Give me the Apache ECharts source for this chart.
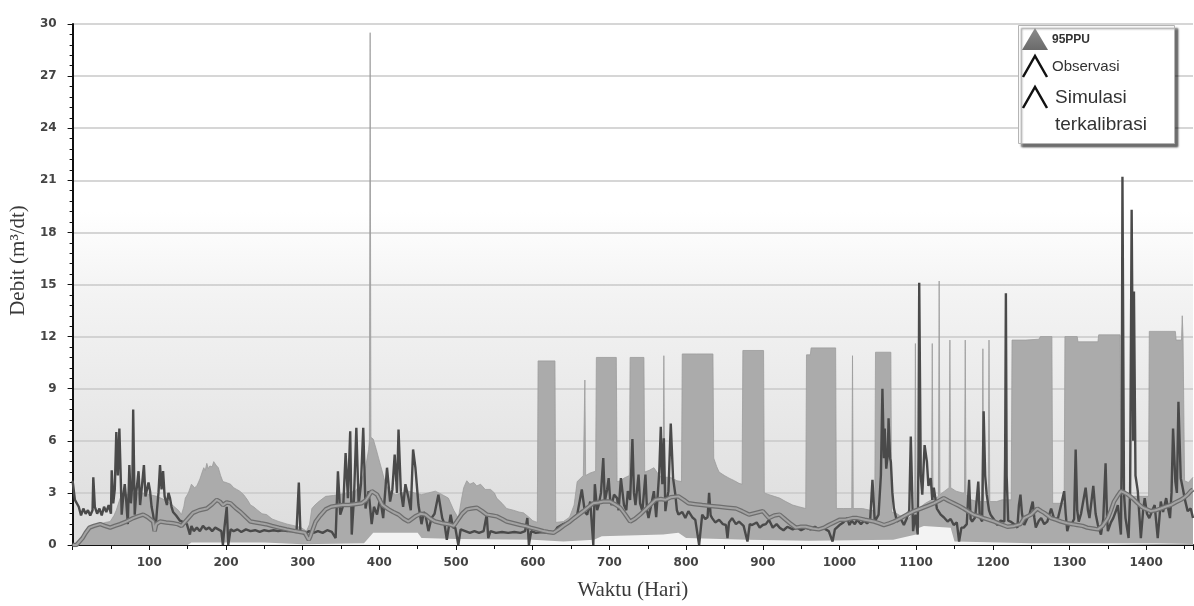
<!DOCTYPE html>
<html>
<head>
<meta charset="utf-8">
<script src="https://cdn.jsdelivr.net/npm/echarts@6/dist/echarts.min.js"></script>
<style>
html,body{margin:0;padding:0;background:#ffffff;}
#chart{width:1194px;height:606px;}
</style>
</head>
<body>
<div id="chart"></div>
<script>
// ---- data: [day, discharge m3/dt] ----
const yTicks = [0,3,6,9,12,15,18,21,24,27,30];
const xTickLabels = [100,200,300,400,500,600,700,800,900,1000,1100,1200,1300,1400];

const observed = [
[0,3.7],[3,2.6],[8,2.2],[11,1.7],[14,2.1],[17,1.8],[20,2.0],[23,1.7],[26,2.0],[27,3.9],[29,2.2],[32,1.8],[35,2.1],[38,1.7],[41,2.2],[44,1.9],[47,2.3],[50,1.8],[51,4.3],[53,2.4],[55,3.2],[57,6.5],[59,4.0],[61,6.7],[63,3.5],[64,1.75],[66,2.8],[68,3.5],[70,2.5],[72,1.2],[74,4.6],[76,2.4],[78,3.6],[79,7.8],[81,1.75],[83,3.0],[86,4.25],[88,2.3],[90,3.2],[93,4.6],[95,2.8],[97,2.7],[99,3.6],[101,3.1],[103,2.2],[105,1.75],[108,0.8],[110,2.0],[112,3.0],[114,4.6],[116,3.2],[118,4.25],[120,2.8],[123,2.3],[125,3.0],[127,2.7],[129,2.2],[131,1.9],[135,1.7],[140,1.4],[145,1.3],[149,1.2],[151,0.9],[153,0.6],[155,1.1],[158,0.8],[162,1.0],[166,0.8],[170,1.1],[174,0.9],[178,1.0],[182,0.8],[186,1.0],[190,0.9],[194,0.8],[196,0.0],[198,1.0],[201,2.2],[203,0.0],[206,0.9],[210,0.8],[215,0.9],[220,0.75],[226,0.9],[232,0.8],[238,0.85],[244,0.75],[250,0.85],[256,0.8],[262,0.85],[268,0.8],[274,0.85],[280,0.8],[286,0.8],[292,0.75],[295,3.6],[297,0.8],[303,0.6],[308,0.8],[314,0.7],[320,0.8],[326,0.7],[332,0.85],[338,0.75],[343,0.4],[346,4.25],[349,1.75],[353,2.3],[356,5.3],[359,2.7],[362,6.55],[364,0.6],[367,2.8],[370,6.75],[373,2.3],[376,3.5],[379,6.75],[382,2.1],[386,3.1],[390,1.2],[393,2.2],[397,1.75],[401,2.7],[405,1.55],[410,4.45],[414,2.5],[417,3.2],[420,5.2],[423,3.0],[425,6.65],[428,3.1],[431,2.2],[434,3.5],[438,2.7],[441,2.0],[444,5.5],[447,4.45],[451,2.3],[455,1.2],[458,1.9],[460,1.75],[464,0.8],[468,1.55],[472,1.8],[477,2.9],[482,1.55],[485,1.2],[488,0.3],[493,1.75],[496,1.0],[499,1.0],[503,0.0],[506,0.9],[512,0.8],[518,0.7],[524,0.8],[530,0.7],[536,0.8],[540,1.75],[542,0.4],[545,0.8],[552,0.7],[560,0.75],[568,0.7],[576,0.75],[584,0.7],[590,0.8],[593,1.55],[595,0.0],[598,0.8],[604,0.7],[612,0.75],[620,0.7],[628,0.7],[632,1.0],[640,1.2],[649,1.35],[654,1.6],[658,1.75],[664,3.2],[668,1.9],[671,1.75],[675,2.5],[679,0.0],[681,3.5],[684,2.0],[686,2.3],[689,3.0],[692,5.0],[694,2.5],[697,3.2],[699,3.85],[701,2.6],[703,2.3],[706,2.9],[710,2.7],[712,2.0],[715,3.85],[719,2.3],[722,2.0],[724,3.1],[727,2.6],[730,6.1],[732,3.0],[734,2.3],[738,4.05],[740,2.4],[743,1.95],[747,4.05],[749,2.0],[751,1.55],[755,2.4],[758,3.1],[761,1.6],[765,4.2],[767,6.8],[769,3.5],[771,6.15],[773,1.95],[775,2.6],[777,3.1],[780,7.0],[783,3.85],[786,2.9],[788,2.0],[790,1.75],[795,1.9],[799,1.55],[803,1.95],[808,1.6],[812,1.45],[817,0.0],[821,1.75],[825,1.5],[828,1.6],[830,3.0],[832,1.7],[834,1.55],[838,1.3],[843,1.45],[848,1.2],[852,1.15],[854,0.4],[856,1.3],[860,1.55],[865,1.2],[869,1.35],[875,1.1],[880,0.2],[883,1.2],[886,1.15],[892,1.3],[896,1.0],[900,1.15],[904,1.2],[908,1.45],[913,1.0],[918,1.2],[922,1.0],[927,0.85],[932,1.05],[939,0.9],[945,1.0],[950,0.85],[956,1.0],[962,0.9],[968,1.05],[973,0.9],[980,0.95],[986,0.8],[991,0.2],[994,0.9],[1000,1.15],[1005,1.3],[1010,1.55],[1013,1.15],[1016,1.4],[1020,1.2],[1023,1.45],[1028,1.2],[1032,1.4],[1036,1.25],[1040,1.4],[1043,3.75],[1046,1.35],[1051,1.75],[1054,4.0],[1056,9.0],[1058,5.0],[1059,6.7],[1061,4.4],[1063,5.2],[1064,7.3],[1066,5.0],[1067,4.8],[1069,3.0],[1071,2.1],[1075,1.35],[1080,1.5],[1084,1.15],[1088,1.55],[1091,2.0],[1093,6.25],[1096,0.8],[1099,1.75],[1102,0.6],[1103,5.0],[1104,15.1],[1106,4.0],[1108,2.9],[1111,5.75],[1114,4.8],[1116,3.4],[1119,3.85],[1121,2.6],[1123,3.3],[1127,2.1],[1132,1.75],[1136,1.6],[1141,1.35],[1145,1.5],[1149,1.15],[1153,1.3],[1156,0.2],[1159,1.0],[1162,1.0],[1166,1.2],[1169,3.75],[1171,1.5],[1173,1.35],[1177,1.6],[1181,3.65],[1183,1.6],[1186,1.35],[1188,7.7],[1190,4.0],[1192,2.9],[1195,2.0],[1197,1.75],[1201,1.5],[1206,1.15],[1210,1.4],[1215,1.35],[1216,5.0],[1217,14.5],[1218,4.0],[1220,1.4],[1223,1.35],[1228,1.2],[1232,1.0],[1234,2.3],[1236,2.9],[1238,1.8],[1241,1.15],[1245,1.55],[1248,1.8],[1252,2.5],[1254,1.6],[1256,1.0],[1260,1.4],[1263,1.55],[1267,1.2],[1271,1.35],[1274,1.8],[1276,2.1],[1280,1.5],[1285,1.55],[1289,2.3],[1293,3.1],[1295,1.8],[1297,0.8],[1300,1.3],[1302,1.15],[1306,1.5],[1308,5.5],[1310,2.0],[1312,1.35],[1315,1.8],[1317,2.3],[1321,3.3],[1324,2.0],[1326,1.55],[1331,3.4],[1334,1.8],[1337,1.15],[1341,0.6],[1344,1.5],[1347,4.7],[1349,1.5],[1350,0.8],[1354,1.3],[1357,1.55],[1360,1.9],[1363,2.3],[1367,0.6],[1368,5.0],[1369,21.2],[1371,3.0],[1373,1.55],[1377,0.4],[1379,3.0],[1381,19.3],[1383,6.0],[1384,14.6],[1386,4.0],[1389,3.1],[1393,0.4],[1396,2.0],[1398,2.7],[1401,1.8],[1404,1.55],[1408,2.0],[1411,2.3],[1415,0.4],[1419,2.5],[1422,1.9],[1426,2.7],[1429,2.0],[1431,1.55],[1433,3.0],[1435,6.7],[1438,3.65],[1440,3.0],[1442,8.25],[1445,3.85],[1448,3.2],[1450,2.7],[1454,1.95],[1458,2.1],[1461,1.55]
];

const simulated = [
[0,0],[5,0],[9,0.2],[13,0.4],[17,0.7],[22,1.0],[28,1.1],[36,1.2],[42,1.1],[49,1.0],[55,1.1],[62,1.2],[70,1.35],[79,1.55],[85,1.65],[92,1.75],[98,1.6],[105,1.35],[107,0.8],[109,1.2],[114,1.35],[122,1.3],[131,1.25],[137,1.2],[142,1.1],[148,1.4],[153,1.65],[157,1.85],[165,2.0],[175,2.1],[182,2.35],[188,2.6],[192,2.5],[196,2.3],[201,2.45],[206,2.4],[212,2.15],[219,1.9],[226,1.6],[232,1.35],[239,1.3],[245,1.25],[252,1.2],[260,1.1],[269,1.0],[279,0.9],[290,0.8],[297,0.75],[303,0.7],[306,0.45],[308,0.3],[310,0.5],[317,1.35],[323,1.7],[330,2.05],[337,2.2],[343,2.25],[352,2.3],[360,2.3],[368,2.35],[377,2.4],[383,2.6],[390,3.1],[397,2.9],[404,2.3],[412,2.05],[418,1.9],[425,1.75],[432,1.5],[438,1.35],[447,1.65],[454,1.8],[460,1.75],[467,1.5],[473,1.35],[482,1.25],[490,1.2],[497,1.1],[501,1.35],[508,1.8],[514,2.05],[520,2.1],[527,2.15],[534,1.95],[540,1.75],[547,1.7],[553,1.65],[560,1.5],[566,1.35],[575,1.25],[584,1.15],[590,1.1],[597,1.0],[606,0.9],[614,0.8],[620,0.75],[627,0.7],[634,0.9],[640,1.1],[647,1.3],[654,1.55],[660,1.75],[666,1.95],[673,2.2],[679,2.4],[686,2.45],[692,2.5],[701,2.5],[707,2.35],[714,2.15],[720,1.8],[727,1.35],[733,1.5],[740,1.75],[747,2.05],[753,2.3],[760,2.6],[767,2.65],[773,2.6],[780,2.75],[790,2.8],[797,2.6],[803,2.4],[812,2.35],[821,2.3],[832,2.25],[843,2.2],[854,2.15],[865,2.1],[873,1.95],[882,1.75],[891,1.85],[900,1.95],[908,1.55],[915,1.7],[922,1.75],[930,1.45],[937,1.2],[943,1.0],[950,1.05],[956,1.05],[965,0.95],[973,0.9],[980,1.0],[986,1.15],[993,1.3],[1000,1.45],[1008,1.45],[1017,1.55],[1023,1.55],[1033,1.45],[1045,1.35],[1052,1.25],[1058,1.15],[1065,1.25],[1071,1.35],[1080,1.55],[1088,1.75],[1097,1.95],[1106,2.1],[1115,2.25],[1123,2.4],[1130,2.55],[1136,2.7],[1142,2.55],[1149,2.4],[1156,2.25],[1162,2.1],[1169,1.9],[1175,1.75],[1182,1.65],[1188,1.55],[1195,1.45],[1202,1.35],[1210,1.2],[1219,1.05],[1228,1.1],[1236,1.2],[1241,1.55],[1250,1.75],[1258,2.1],[1263,1.95],[1267,1.85],[1276,1.55],[1283,1.45],[1289,1.35],[1297,1.25],[1304,1.2],[1310,1.15],[1317,1.1],[1323,1.0],[1330,0.95],[1337,0.9],[1343,1.1],[1350,1.55],[1354,2.0],[1358,2.5],[1363,2.85],[1367,3.1],[1372,3.0],[1376,2.9],[1382,2.7],[1389,2.4],[1394,2.2],[1398,2.1],[1406,1.95],[1412,2.0],[1419,2.1],[1425,2.2],[1432,2.3],[1438,2.45],[1445,2.6],[1450,2.75],[1454,2.9],[1458,3.1],[1461,3.2]
];

const ppuUpper = [
[0,0],[5,0.0],[10,0.3],[16,0.6],[22,1.0],[30,1.1],[36,1.2],[43,1.3],[49,1.35],[54,1.7],[57,2.0],[62,2.7],[70,2.9],[80,3.0],[90,3.0],[100,2.9],[110,2.8],[120,2.6],[130,2.3],[138,2.0],[142,1.75],[145,2.2],[147,2.7],[151,3.0],[155,3.5],[159,3.3],[162,3.4],[166,3.8],[169,4.2],[171,4.45],[173,4.3],[175,4.7],[177,4.4],[179,4.55],[182,4.5],[184,4.8],[187,4.6],[190,4.45],[193,4.0],[196,3.65],[200,3.6],[206,3.5],[210,3.3],[214,3.2],[218,3.1],[223,2.9],[228,2.6],[232,2.3],[236,2.2],[240,2.05],[247,1.8],[253,1.75],[260,1.5],[269,1.35],[280,1.2],[290,1.1],[298,1.0],[305,0.8],[309,1.2],[312,2.1],[316,2.3],[321,2.5],[330,2.8],[340,2.85],[347,2.9],[358,3.0],[369,3.1],[376,3.6],[382,4.45],[386,5.5],[387,6.0],[388,29.5],[389,6.2],[392,6.1],[396,5.5],[399,5.0],[404,4.2],[408,3.5],[414,3.1],[421,2.9],[430,3.0],[438,3.1],[446,3.0],[455,2.9],[464,3.0],[473,3.1],[482,2.9],[490,2.7],[497,2.0],[503,1.55],[507,2.6],[510,3.3],[514,3.7],[518,3.5],[523,3.6],[527,3.4],[532,3.5],[538,3.2],[545,3.2],[550,3.0],[553,2.7],[560,2.4],[566,2.1],[575,2.0],[582,1.9],[588,1.85],[595,1.6],[600,1.4],[606,1.3],[607,10.6],[629,10.6],[630,1.3],[640,1.35],[648,1.6],[654,2.3],[658,3.65],[666,4.0],[667,4.0],[668,9.5],[669,4.0],[675,4.15],[682,4.25],[683,10.8],[709,10.8],[710,3.65],[715,3.7],[719,3.85],[726,4.0],[727,10.8],[745,10.8],[746,4.2],[752,4.3],[758,4.45],[765,4.0],[770,3.9],[771,10.9],[772,3.9],[778,3.9],[782,3.85],[788,3.7],[794,3.65],[795,11.0],[814,11.0],[815,10.9],[816,11.0],[835,11.0],[836,5.0],[840,4.5],[843,4.2],[850,4.0],[856,3.85],[863,3.7],[869,3.55],[873,3.5],[874,11.2],[901,11.2],[902,3.0],[908,2.9],[915,2.8],[922,2.7],[930,2.5],[939,2.3],[947,2.2],[956,2.1],[957,10.95],[962,10.95],[963,11.35],[995,11.35],[996,2.1],[1005,2.1],[1016,2.1],[1017,10.9],[1018,2.1],[1030,2.1],[1040,2.0],[1046,2.0],[1047,11.1],[1067,11.1],[1068,1.9],[1075,1.8],[1082,1.6],[1090,1.5],[1098,2.0],[1099,11.6],[1100,2.0],[1106,2.2],[1112,2.4],[1120,2.6],[1121,11.6],[1122,2.6],[1129,2.8],[1130,15.2],[1131,2.9],[1137,3.1],[1143,3.3],[1144,11.8],[1145,3.3],[1152,3.1],[1160,3.0],[1163,3.0],[1164,11.8],[1165,2.9],[1172,2.6],[1180,2.5],[1186,2.5],[1187,11.3],[1188,2.5],[1194,2.5],[1195,11.8],[1196,2.5],[1205,2.5],[1212,2.6],[1224,2.6],[1225,11.8],[1243,11.8],[1244,11.7],[1245,11.85],[1260,11.85],[1261,11.8],[1262,12.0],[1277,12.0],[1278,2.4],[1286,2.4],[1293,2.4],[1294,12.0],[1310,12.0],[1311,11.7],[1337,11.7],[1338,12.1],[1366,12.1],[1367,2.8],[1380,2.8],[1395,2.8],[1403,2.8],[1404,12.3],[1438,12.3],[1439,11.8],[1446,11.8],[1447,13.2],[1448,12.0],[1449,12.0],[1450,3.7],[1455,3.6],[1461,3.9]
];

const ppuLower = [
[0,0],[150,0],[155,0.15],[250,0.15],[300,0.05],[380,0.1],[388,0.5],[392,0.7],[450,0.7],[455,0.4],[500,0.35],[600,0.3],[640,0.2],[680,0.3],[690,0.5],[770,0.6],[790,0.7],[800,0.4],[880,0.3],[960,0.25],[1070,0.3],[1100,0.6],[1104,1.0],[1110,1.1],[1145,1.0],[1150,0.2],[1250,0.1],[1350,0.1],[1461,0.1]
];

const chart = echarts.init(document.getElementById('chart'), null, {renderer:'canvas'});

const axisFont = {fontFamily:'DejaVu Sans', fontWeight:'bold', fontSize:12, color:'#444444'};

chart.setOption({
  animation:false,
  backgroundColor:'#ffffff',
  grid:{
    left:71, right:1, top:24, bottom:59, show:true, borderWidth:0,
    backgroundColor:{type:'linear',x:0,y:0,x2:0,y2:1,colorStops:[
      {offset:0,color:'#ffffff'},{offset:0.36,color:'#ffffff'},
      {offset:0.52,color:'#f3f3f3'},{offset:1,color:'#dcdcdc'}]}
  },
  xAxis:{
    type:'value', min:0, max:1461, interval:100,
    name:'Waktu (Hari)', nameLocation:'middle', nameGap:35,
    nameTextStyle:{fontFamily:'Liberation Serif', fontSize:21, color:'#3a3a3a'},
    axisLine:{show:true,onZero:false,lineStyle:{color:'#111',width:2}},
    axisTick:{show:true,length:5,lineStyle:{color:'#111',width:1}},
    minorTick:{show:true,splitNumber:2,length:4,lineStyle:{color:'#111',width:1}},
    axisLabel:Object.assign({margin:12, showMinLabel:false, showMaxLabel:false,
      formatter:function(v){return xTickLabels.indexOf(v)>=0 ? String(v) : '';}}, axisFont),
    splitLine:{show:false}
  },
  yAxis:{
    type:'value', min:yTicks[0], max:yTicks[yTicks.length-1], interval:3,
    name:'Debit (m³/dt)', nameLocation:'middle', nameGap:38,
    nameTextStyle:{fontFamily:'Liberation Serif', fontSize:21, color:'#3a3a3a', padding:[0,0,0,48]},
    axisLine:{show:true,lineStyle:{color:'#111',width:2}},
    axisTick:{show:true,length:5,lineStyle:{color:'#111',width:1}},
    minorTick:{show:true,splitNumber:5,length:3,lineStyle:{color:'#111',width:1}},
    axisLabel:Object.assign({margin:16}, axisFont),
    splitLine:{show:true,lineStyle:{color:'#c9c9c9',width:1.5}}
  },
  series:[
    {name:'95PPU', type:'line', data:ppuUpper, symbol:'none', color:'#8a8a8a',
     lineStyle:{width:0.8,color:'#9c9c9c'}, areaStyle:{color:'#ababab',opacity:1}, z:2},
    {name:'ppuLower', type:'line', data:ppuLower, symbol:'none',
     lineStyle:{width:0}, areaStyle:{color:'#f3f3f3',opacity:1}, z:2},
    {name:'Observasi', type:'line', data:observed, symbol:'none', color:'#4a4a4a',
     lineStyle:{width:2.4,color:'#4a4a4a'}, z:3},
    {name:'Simulasi terkalibrasi', type:'line', data:simulated, symbol:'none', color:'#6e6e6e',
     lineStyle:{width:4.5,color:'#6e6e6e'}, z:4},
    {name:'simInner', type:'line', data:simulated, symbol:'none',
     lineStyle:{width:2,color:'#a3a3a3'}, z:4}
  ],
  graphic:[
    {type:'rect', left:1018, top:25, z:100, shape:{width:156,height:118},
     style:{fill:'#ffffff',stroke:'#b5b5b5',lineWidth:1,
            shadowBlur:2,shadowOffsetX:3,shadowOffsetY:3,shadowColor:'rgba(0,0,0,0.55)'}},
    {type:'polygon', z:101, shape:{points:[[1022,50],[1035,28],[1048,50]]},
     style:{fill:{type:'linear',x:0,y:0,x2:0,y2:1,colorStops:[{offset:0,color:'#8c8c8c'},{offset:1,color:'#6a6a6a'}]}}},
    {type:'text', z:101, x:1052, y:40, style:{text:'95PPU', fill:'#333', font:'bold 12px "Liberation Sans"', verticalAlign:'middle'}},
    {type:'polyline', z:101, shape:{points:[[1023,77],[1035,56],[1047,77]]},
     style:{stroke:'#111',lineWidth:2.5,fill:null}},
    {type:'text', z:101, x:1052, y:67, style:{text:'Observasi', fill:'#333', font:'15px "Liberation Sans"', verticalAlign:'middle'}},
    {type:'polyline', z:101, shape:{points:[[1023,108],[1035,87],[1047,108]]},
     style:{stroke:'#111',lineWidth:2.5,fill:null}},
    {type:'text', z:101, x:1055, y:98, style:{text:'Simulasi', fill:'#333', font:'19px "Liberation Sans"', verticalAlign:'middle'}},
    {type:'text', z:101, x:1055, y:125, style:{text:'terkalibrasi', fill:'#333', font:'19px "Liberation Sans"', verticalAlign:'middle'}}
  ]
});
</script>
</body>
</html>
